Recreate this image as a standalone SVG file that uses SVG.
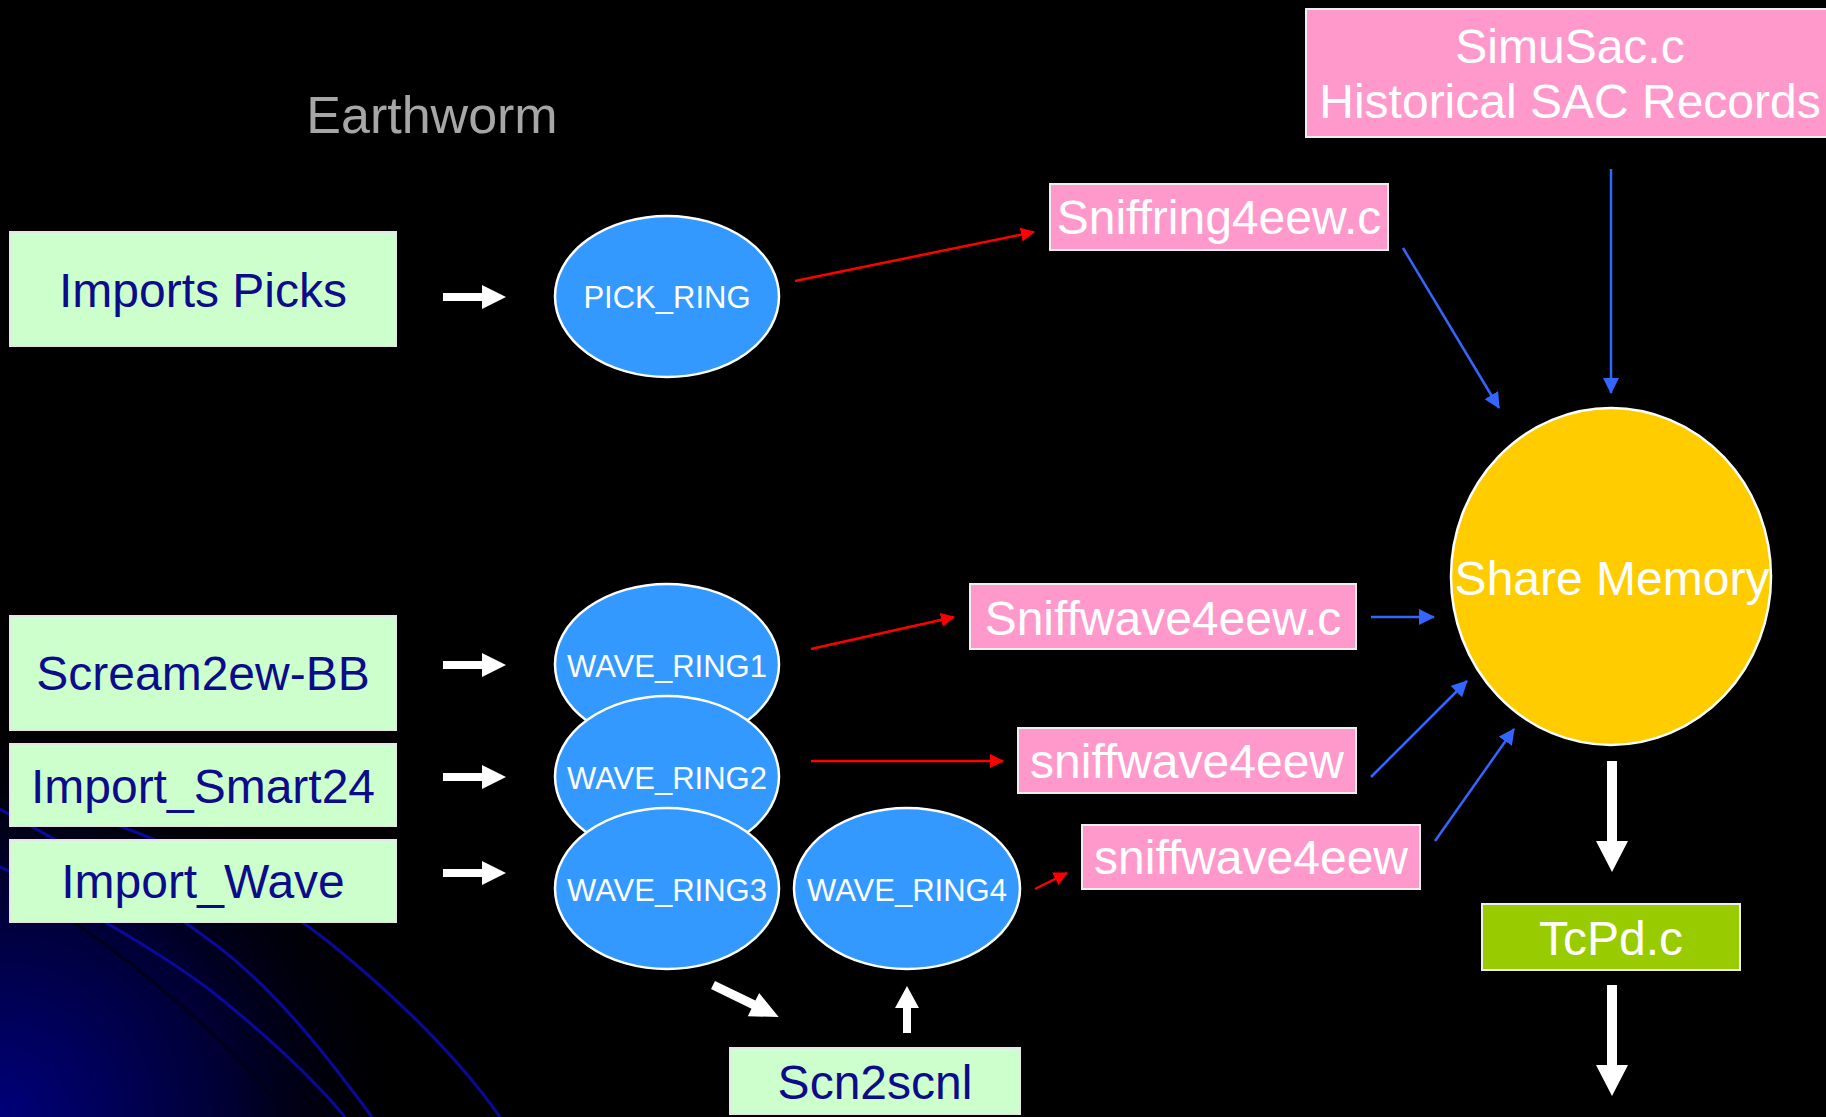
<svg xmlns="http://www.w3.org/2000/svg" width="1826" height="1117" viewBox="0 0 1826 1117">
<defs>
<radialGradient id="glow" cx="0" cy="1117" r="420" gradientUnits="userSpaceOnUse">
<stop offset="0" stop-color="#00007a"/>
<stop offset="0.55" stop-color="#000033"/>
<stop offset="1" stop-color="#000000" stop-opacity="0"/>
</radialGradient>
<marker id="hr" viewBox="0 0 14 14" refX="13" refY="7" markerWidth="14" markerHeight="14" markerUnits="userSpaceOnUse" orient="auto">
<path d="M0,0 L14,7 L0,14 z" fill="#ff0000"/>
</marker>
<marker id="hb" viewBox="0 0 16 16" refX="15" refY="8" markerWidth="16" markerHeight="16" markerUnits="userSpaceOnUse" orient="auto">
<path d="M0,0 L16,8 L0,16 z" fill="#3366ff"/>
</marker>
<path id="wa" d="M0,-4 L39,-4 L39,-12 L63,0 L39,12 L39,4 L0,4 z"/>
</defs>
<style>
text{font-family:"Liberation Sans",Arial,sans-serif;text-anchor:middle}
.g rect{fill:#ccffcc;stroke:#e6e6e6;stroke-width:2}
.g text{fill:#0c0c8a;font-size:48px}
.p rect{fill:#ff99cc;stroke:#eeeeee;stroke-width:2}
.p text{fill:#ffffff;font-size:48px}
.r ellipse{fill:#3399ff;stroke:#ffffff;stroke-width:2.5}
.r text{fill:#ffffff;font-size:31px}
.red{stroke:#ff0000;stroke-width:2.5;fill:none;marker-end:url(#hr)}
.blu{stroke:#3366ff;stroke-width:2.5;fill:none;marker-end:url(#hb)}
.wh{fill:#ffffff}
.bg{fill:none;stroke:#0a0a9a;stroke-width:3}
</style>
<rect x="0" y="0" width="1826" height="1117" fill="#000000"/>
<rect x="0" y="600" width="520" height="517" fill="url(#glow)"/>
<g id="background-curves">
<path d="M40,900 C120,950 220,1030 290,1117" fill="none" stroke="#000018" stroke-width="3"/>
<path class="bg" d="M-10,862 C60,895 150,945 210,990 C260,1030 310,1075 345,1117"/>
<path class="bg" d="M-10,804 C60,840 150,895 220,948 C280,995 330,1060 372,1117"/>
<path class="bg" d="M60,808 C150,830 250,880 330,943 C400,1000 460,1060 500,1117"/>
</g>
<text x="432" y="133" style="font-size:52px;fill:#a6a6a6">Earthworm</text>
<g id="connectors">
<use href="#wa" class="wh" transform="translate(443,297)"/>
<use href="#wa" class="wh" transform="translate(443,665)"/>
<use href="#wa" class="wh" transform="translate(443,777)"/>
<use href="#wa" class="wh" transform="translate(443,873)"/>
<path class="wh" d="M0,-4.5 L45,-4.5 L45,-13 L73,0 L45,13 L45,4.5 L0,4.5 z" transform="translate(713,985) rotate(25.9)"/>
<path class="wh" d="M903,1033 L903,1008 L895,1008 L907,986 L919,1008 L911,1008 L911,1033 z"/>
<path class="wh" d="M1607,761 L1617,761 L1617,841 L1628,841 L1612,872 L1596,841 L1607,841 z"/>
<path class="wh" d="M1607,985 L1617,985 L1617,1065 L1628,1065 L1612,1096 L1596,1065 L1607,1065 z"/>
<line class="red" x1="795" y1="281" x2="1034" y2="232"/>
<line class="red" x1="811" y1="649" x2="954" y2="617"/>
<line class="red" x1="811" y1="761" x2="1003" y2="761"/>
<line class="red" x1="1035" y1="889" x2="1067" y2="873"/>
<line class="blu" x1="1611" y1="169" x2="1611" y2="393"/>
<line class="blu" x1="1403" y1="248" x2="1499" y2="408"/>
<line class="blu" x1="1371" y1="617" x2="1434" y2="617"/>
<line class="blu" x1="1371" y1="777" x2="1467" y2="681"/>
<line class="blu" x1="1435" y1="841" x2="1514" y2="729"/>
</g>
<g id="imports-picks" class="g"><rect x="10" y="232" width="386" height="114"/><text x="203" y="307">Imports Picks</text></g>
<g id="scream2ew-bb" class="g"><rect x="10" y="616" width="386" height="114"/><text x="203" y="690">Scream2ew-BB</text></g>
<g id="import-smart24" class="g"><rect x="10" y="744" width="386" height="82"/><text x="203" y="803">Import_Smart24</text></g>
<g id="import-wave" class="g"><rect x="10" y="840" width="386" height="82"/><text x="203" y="898">Import_Wave</text></g>
<g id="scn2scnl" class="g"><rect x="730" y="1048" width="290" height="66"/><text x="875" y="1099">Scn2scnl</text></g>
<g id="pick-ring" class="r"><ellipse cx="667" cy="296.5" rx="112" ry="80.5"/><text x="667" y="308">PICK_RING</text></g>
<g id="wave-ring1" class="r"><ellipse cx="667" cy="664.5" rx="112" ry="80.5"/><text x="667" y="677">WAVE_RING1</text></g>
<g id="wave-ring2" class="r"><ellipse cx="667" cy="776.5" rx="112" ry="80.5"/><text x="667" y="789">WAVE_RING2</text></g>
<g id="wave-ring3" class="r"><ellipse cx="667" cy="888.5" rx="112" ry="80.5"/><text x="667" y="901">WAVE_RING3</text></g>
<g id="wave-ring4" class="r"><ellipse cx="907" cy="888.5" rx="113" ry="80.5"/><text x="907" y="901">WAVE_RING4</text></g>
<g id="simusac" class="p"><rect x="1306" y="9" width="530" height="128"/><text x="1570" y="63">SimuSac.c</text><text x="1570" y="118">Historical SAC Records</text></g>
<g id="sniffring4eew" class="p"><rect x="1050" y="184" width="338" height="66"/><text x="1219" y="234">Sniffring4eew.c</text></g>
<g id="sniffwave4eew-c" class="p"><rect x="970" y="584" width="386" height="65"/><text x="1163" y="635">Sniffwave4eew.c</text></g>
<g id="sniffwave4eew-2" class="p"><rect x="1018" y="728" width="338" height="65"/><text x="1187" y="778">sniffwave4eew</text></g>
<g id="sniffwave4eew-3" class="p"><rect x="1082" y="825" width="338" height="64"/><text x="1251" y="874">sniffwave4eew</text></g>
<g id="share-memory"><ellipse cx="1611" cy="576.5" rx="160" ry="168.5" fill="#ffcc00" stroke="#ffffff" stroke-width="2.5"/><text x="1612" y="595" style="font-size:48px;fill:#ffffff">Share Memory</text></g>
<g id="tcpd" class="g"><rect x="1482" y="904" width="258" height="66" style="fill:#99cc00;stroke:#eeeeee"/><text x="1611" y="955" style="fill:#ffffff">TcPd.c</text></g>
</svg>
